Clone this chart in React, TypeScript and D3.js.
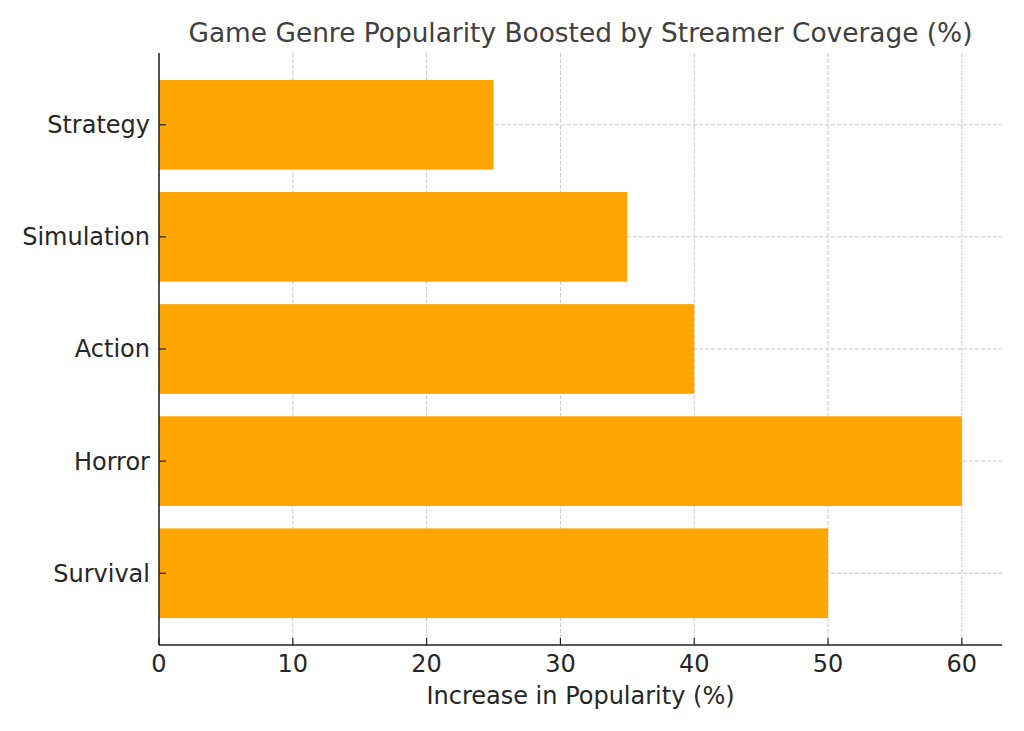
import React, { useEffect, useRef } from 'react';
import * as d3 from 'd3';

const genres = ['Strategy', 'Simulation', 'Action', 'Horror', 'Survival'];
const increase = [25, 35, 40, 60, 50];
const xTicks = [0, 10, 20, 30, 40, 50, 60];

const App = () => {
  const ref = useRef<SVGSVGElement>(null);

  useEffect(() => {
    const svg = d3.select(ref.current);
    svg.selectAll('*').remove();

    const width = 1024;
    const height = 731;
    const left = 159, right = 1002, top = 53, bottom = 645;
    const font = "'DejaVu Sans', sans-serif";

    const x = d3.scaleLinear().domain([0, 63]).range([left, right]);
    // matplotlib-like: bars at 0..4 with height 0.8, 5% margins
    const y = d3.scaleLinear().domain([-0.64, 4.64]).range([top, bottom]);

    const g = svg.append('g');

    // grid
    g.selectAll('.vgrid')
      .data(xTicks)
      .enter()
      .append('line')
      .attr('x1', d => x(d)).attr('x2', d => x(d))
      .attr('y1', top).attr('y2', bottom)
      .attr('stroke', '#c8c8c8').attr('stroke-width', 1)
      .attr('stroke-dasharray', '4,2');

    g.selectAll('.hgrid')
      .data(genres)
      .enter()
      .append('line')
      .attr('x1', left).attr('x2', right)
      .attr('y1', (d, i) => y(i)).attr('y2', (d, i) => y(i))
      .attr('stroke', '#c8c8c8').attr('stroke-width', 1)
      .attr('stroke-dasharray', '4,2');

    // bars
    g.selectAll('.bar')
      .data(genres)
      .enter()
      .append('rect')
      .attr('x', x(0))
      .attr('y', (d, i) => y(i - 0.4))
      .attr('width', (d, i) => x(increase[i]) - x(0))
      .attr('height', y(0.4) - y(-0.4))
      .attr('fill', '#FFA500');

    // spines
    g.append('line')
      .attr('x1', left).attr('x2', left).attr('y1', top).attr('y2', bottom)
      .attr('stroke', '#222').attr('stroke-width', 1.5);
    g.append('line')
      .attr('x1', left).attr('x2', right).attr('y1', bottom).attr('y2', bottom)
      .attr('stroke', '#222').attr('stroke-width', 1.5);

    // x ticks (inward) and labels
    g.selectAll('.xtick')
      .data(xTicks)
      .enter()
      .append('line')
      .attr('x1', d => x(d)).attr('x2', d => x(d))
      .attr('y1', bottom).attr('y2', bottom - 7)
      .attr('stroke', '#222').attr('stroke-width', 1.2);
    g.selectAll('.xlabel')
      .data(xTicks)
      .enter()
      .append('text')
      .attr('x', d => x(d))
      .attr('y', 672)
      .attr('text-anchor', 'middle')
      .attr('font-family', font).attr('font-size', 24)
      .attr('fill', '#262626')
      .text(d => d);

    // y ticks and labels
    g.selectAll('.ytick')
      .data(genres)
      .enter()
      .append('line')
      .attr('x1', left).attr('x2', left + 7)
      .attr('y1', (d, i) => y(i)).attr('y2', (d, i) => y(i))
      .attr('stroke', '#222').attr('stroke-width', 1.2);
    g.selectAll('.ylabel')
      .data(genres)
      .enter()
      .append('text')
      .attr('x', 150)
      .attr('y', (d, i) => y(i))
      .attr('dy', '0.35em')
      .attr('text-anchor', 'end')
      .attr('font-family', font).attr('font-size', 24)
      .attr('fill', '#262626')
      .text(d => d);

    // axis label
    svg.append('text')
      .attr('x', (left + right) / 2)
      .attr('y', 704)
      .attr('text-anchor', 'middle')
      .attr('font-family', font).attr('font-size', 24)
      .attr('fill', '#262626')
      .text('Increase in Popularity (%)');

    // title
    svg.append('text')
      .attr('x', (left + right) / 2)
      .attr('y', 42)
      .attr('text-anchor', 'middle')
      .attr('font-family', font).attr('font-size', 26.4)
      .attr('fill', '#404040')
      .text('Game Genre Popularity Boosted by Streamer Coverage (%)');

    svg.attr('width', width).attr('height', height);
  }, []);

  return (
    <svg
      ref={ref}
      width={1024}
      height={731}
      style={{ position: 'absolute', left: 0, top: 0, background: '#fff' }}
    />
  );
};

export default App;
